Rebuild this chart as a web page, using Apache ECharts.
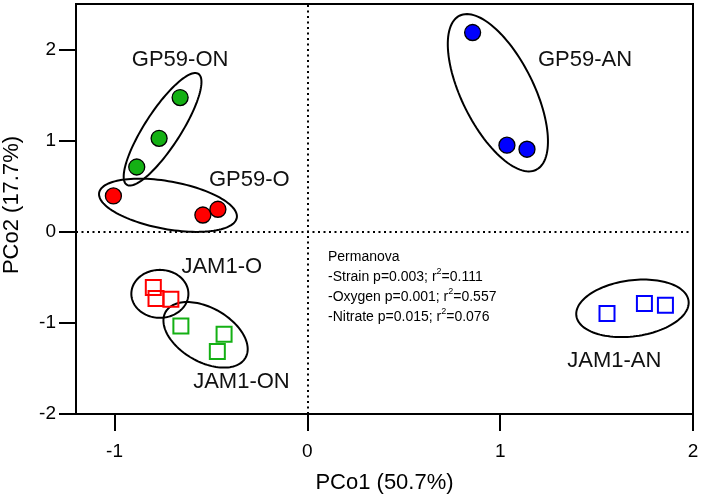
<!DOCTYPE html>
<html>
<head>
<meta charset="utf-8">
<script src="https://cdn.jsdelivr.net/npm/echarts@6/dist/echarts.min.js"></script>
<style>html,body{margin:0;padding:0;background:#fff}#c{width:701px;height:501px}</style>
</head>
<body>
<div id="c"></div>
<script>
// ---- data (PCo1, PCo2) ----
const gp59onX = [-0.660, -0.769, -0.885];
const gp59onY = [1.473, 1.026, 0.711];
const gp59oX = [-1.006, -0.542, -0.464];
const gp59oY = [0.393, 0.184, 0.247];
const gp59anX = [0.857, 1.035, 1.139];
const gp59anY = [2.187, 0.950, 0.906];
const jam1oX = [-0.799, -0.785, -0.708];
const jam1oY = [-0.612, -0.733, -0.741];
const jam1onX = [-0.656, -0.432, -0.467];
const jam1onY = [-1.034, -1.125, -1.315];
const jam1anX = [1.554, 1.748, 1.857];
const jam1anY = [-0.898, -0.788, -0.807];

// group labels and where they sit (data units)
const groupNames = ['GP59-ON', 'GP59-O', 'GP59-AN', 'JAM1-O', 'JAM1-ON', 'JAM1-AN'];
const labelX = [-0.660, -0.301, 1.440, -0.444, -0.342, 1.592];
const labelY = [1.883, 0.569, 1.883, -0.386, -1.647, -1.418];

// ellipses: centre and two semi-axis vectors, data units
const ellCX = [-0.751, -0.723, 0.988, -0.765, -0.528, 1.686];
const ellCY = [1.125, 0.291, 1.526, -0.681, -1.131, -0.840];
const ellUX = [0.186, 0.357, 0.199, 0.148, 0.207, 0.291];
const ellUY = [0.608, -0.137, -0.845, 0.000, -0.252, 0.082];
const ellVX = [0.078, -0.021, 0.167, 0.000, -0.070, 0.019];
const ellVY = [-0.108, -0.258, 0.177, -0.263, -0.257, -0.305];

const xTicks = [-1, 0, 1, 2];
const yTicks = [-2, -1, 0, 1, 2];

const permTitle = 'Permanova';
const permRows = [
  ['-Strain p=0.003; r', '=0.111'],
  ['-Oxygen p=0.001; r', '=0.557'],
  ['-Nitrate p=0.015; r', '=0.076']
];

// ---- chart ----
const FONT = "'Liberation Sans', Arial, sans-serif";
const zip = (xs, ys) => xs.map((x, i) => [x, ys[i]]);
const RED = '#ff0000', GREEN = '#14b014', BLUE = '#0000ff';

function circles(name, xs, ys, color) {
  return {
    type: 'scatter', name, data: zip(xs, ys), symbol: 'circle', symbolSize: 16,
    itemStyle: { color, borderColor: '#000', borderWidth: 1.3, opacity: 1 },
    z: 5, silent: true
  };
}
function squares(name, xs, ys, color) {
  return {
    type: 'scatter', name, data: zip(xs, ys), symbol: 'rect', symbolSize: 15,
    itemStyle: { color: 'rgba(0,0,0,0)', borderColor: color, borderWidth: 2, opacity: 1 },
    z: 5, silent: true
  };
}

const ellData = ellCX.map((cx, i) => [cx, ellCY[i], ellUX[i], ellUY[i], ellVX[i], ellVY[i]]);
const labelData = labelX.map((x, i) => [x, labelY[i], i]);

const richText = [ '{n|' + permTitle + '}' ]
  .concat(permRows.map(r => '{n|' + r[0] + '}{s|2}{n|' + r[1] + '}')).join('\n');

const chart = echarts.init(document.getElementById('c'), null, { renderer: 'canvas' });
chart.setOption({
  animation: false,
  backgroundColor: '#fff',
  textStyle: { fontFamily: FONT },
  grid: { left: 76, top: 4, right: 8, bottom: 87, show: true, borderColor: '#000', borderWidth: 2, backgroundColor: 'transparent', containLabel: false, outerBoundsMode: 'none' },
  xAxis: {
    type: 'value', min: -1.2, max: 2,
    axisLine: { show: true, onZero: false, lineStyle: { color: '#000', width: 2 } },
    axisTick: { show: true, length: 17, lineStyle: { color: '#000', width: 2 }, customValues: xTicks },
    axisLabel: { customValues: xTicks, fontSize: 19, color: '#000', margin: 28, fontFamily: FONT },
    splitLine: { show: false },
    name: 'PCo1 (50.7%)', nameLocation: 'middle', nameGap: 58,
    nameTextStyle: { fontSize: 22, color: '#000', fontFamily: FONT }
  },
  yAxis: {
    type: 'value', min: -2, max: 2.5,
    axisLine: { show: true, onZero: false, lineStyle: { color: '#000', width: 2 } },
    axisTick: { show: true, length: 17, lineStyle: { color: '#000', width: 2 }, customValues: yTicks },
    axisLabel: { customValues: yTicks, fontSize: 19, color: '#000', margin: 20, fontFamily: FONT },
    splitLine: { show: false },
    name: 'PCo2 (17.7%)', nameLocation: 'middle', nameGap: 53,
    nameTextStyle: { fontSize: 22, color: '#000', fontFamily: FONT, padding: [0, 0, 0, 8] }
  },
  graphic: [{
    type: 'text', left: 328, top: 250, z: 10,
    style: {
      text: richText,
      rich: {
        n: { fontSize: 14, lineHeight: 20, fill: '#000', fontFamily: FONT },
        s: { fontSize: 9, lineHeight: 20, fill: '#000', fontFamily: FONT, verticalAlign: 'top', padding: [0, 0, 0, 0] }
      }
    }
  }],
  series: [
    {
      type: 'custom', name: 'ellipses', data: ellData, silent: true, z: 3,
      markLine: {
        silent: true, symbol: ['none', 'none'], label: { show: false },
        lineStyle: { color: '#000', width: 2, type: [2, 3.5] },
        data: [{ xAxis: 0 }, { yAxis: 0 }], z: 1
      },
      renderItem: function (params, api) {
        const cx = api.value(0), cy = api.value(1);
        const ux = api.value(2), uy = api.value(3), vx = api.value(4), vy = api.value(5);
        const pts = [];
        for (let k = 0; k < 120; k++) {
          const t = k / 120 * Math.PI * 2;
          const c = Math.cos(t), s = Math.sin(t);
          pts.push(api.coord([cx + c * ux + s * vx, cy + c * uy + s * vy]));
        }
        return { type: 'polygon', shape: { points: pts }, style: { fill: 'none', stroke: '#000', lineWidth: 2 } };
      }
    },
    circles('GP59-ON', gp59onX, gp59onY, GREEN),
    circles('GP59-O', gp59oX, gp59oY, RED),
    circles('GP59-AN', gp59anX, gp59anY, BLUE),
    squares('JAM1-O', jam1oX, jam1oY, RED),
    squares('JAM1-ON', jam1onX, jam1onY, GREEN),
    squares('JAM1-AN', jam1anX, jam1anY, BLUE),
    {
      type: 'custom', name: 'labels', data: labelData, silent: true, z: 6,
      renderItem: function (params, api) {
        const p = api.coord([api.value(0), api.value(1)]);
        return {
          type: 'text', x: p[0], y: p[1],
          style: { text: groupNames[api.value(2)], fontSize: 22, fontFamily: FONT, fill: '#111', align: 'center', verticalAlign: 'middle' }
        };
      }
    }
  ]
});
</script>
</body>
</html>
